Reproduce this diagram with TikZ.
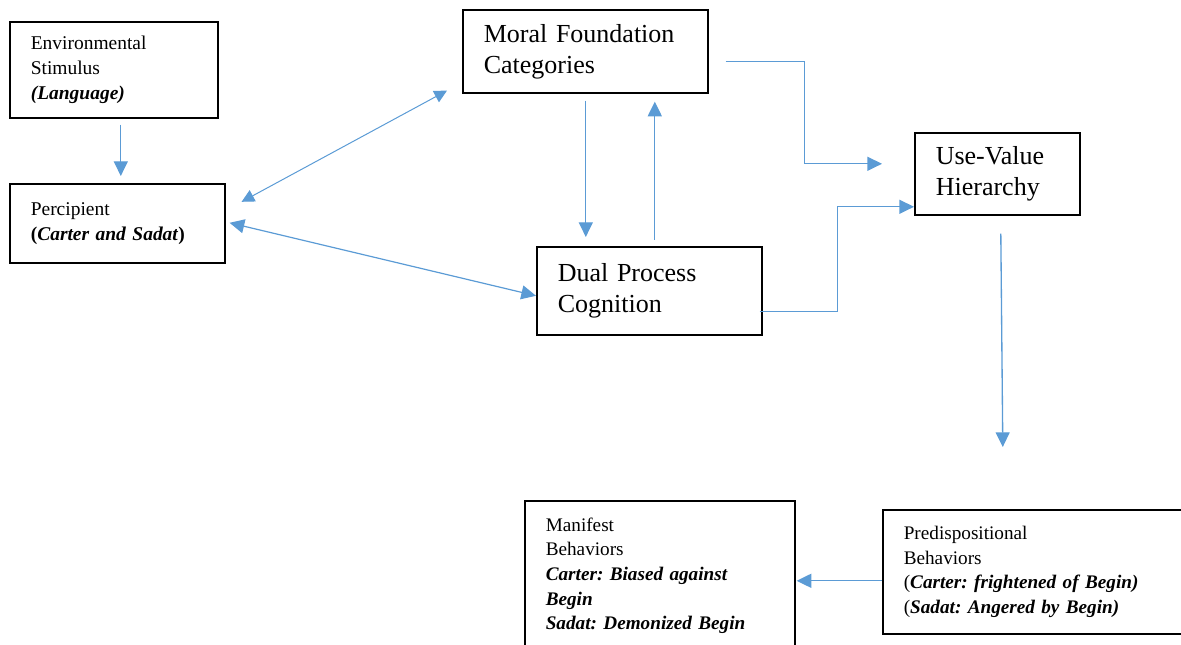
\documentclass[tikz,border=0pt]{standalone}
\usepackage{fontspec}
\setmainfont{Liberation Serif}
\frenchspacing
\usetikzlibrary{arrows.meta,calc}
\definecolor{linkblue}{HTML}{5B9BD5}
\tikzset{
  box/.style={draw=black, line width=1.2pt, rectangle, anchor=north west,
    inner xsep=15.75pt, inner ysep=0pt, align=left},
  small/.style={font=\fontsize{14.6pt}{18.75pt}\selectfont},
  smallb/.style={font=\fontsize{14.4pt}{18.4pt}\selectfont},
  large/.style={font=\fontsize{19.5pt}{23.25pt}\selectfont},
  link/.style={draw=linkblue, line width=1pt,
    -{Triangle[length=11pt,width=10.5pt]}},
  thinlink/.style={draw=linkblue, line width=0.75pt,
    {Triangle[length=9.5pt,width=9.5pt]}-{Triangle[length=9.5pt,width=9.5pt]}},
  duallink/.style={draw=linkblue, line width=0.9pt,
    {Triangle[length=11pt,width=10.5pt]}-{Triangle[length=11pt,width=10.5pt]}},
}
\begin{document}
\begin{tikzpicture}[x=0.75pt, y=-0.75pt]
\useasboundingbox (0,0) rectangle (1181,645);

% boxes
\node[box, small, minimum width=156pt, minimum height=72pt, text width=124.5pt]
  (env) at (9,21) {Environmental\\Stimulus\\\textbf{\textit{(Language)}}};
\node[box, small, minimum width=161.25pt, minimum height=59.25pt, text width=129.75pt]
  (percip) at (9,183) {Percipient\\\textbf{(\textit{Carter and Sadat})}};
\node[box, large, minimum width=183.75pt, minimum height=62.25pt, text width=152.25pt]
  (moral) at (462,9) {\rule{0pt}{0pt}Moral Foundation\\Categories};
\node[box, large, minimum width=168.75pt, minimum height=66pt, text width=137.25pt]
  (dual) at (536,246) {Dual Process\\Cognition};
\node[box, large, minimum width=123.75pt, minimum height=61.5pt, text width=92.25pt]
  (usev) at (914,132) {Use-Value\\Hierarchy};
\node[box, smallb, minimum width=202.5pt, minimum height=112.5pt, text width=171pt]
  (manif) at (524,500) {Manifest\\Behaviors\\\textbf{\textit{Carter: Biased against}}\\\textbf{\textit{Begin}}\\\textbf{\textit{Sadat: Demonized Begin}}};
\node[box, smallb, minimum width=228.75pt, minimum height=93pt, text width=197.25pt]
  (predisp) at (882,509) {Predispositional\\Behaviors\\(\textbf{\textit{Carter: frightened of Begin)}}\\(\textbf{\textit{Sadat: Angered by Begin)}}};

% connectors
\draw[link] ($(env.south)+(7,6)$) -- ($(percip.north)+(3.5,-7)$);
\draw[thinlink] ($(percip.east)+(16,-21.5)$) -- ($(moral.south west)+(-15,-3)$);
\draw[duallink] ($(percip.east)+(4,-0.5)$) -- ($(dual.west)+(0,5)$);
\draw[link] ($(moral.south)+(0.5,7)$) -- ($(dual.north)+(-63.5,-9)$);
\draw[link] ($(dual.north)+(5.5,-6)$) -- ($(moral.south)+(69.5,8)$);
\draw[link] ($(moral.east)+(17,10.5)$) -- ++(79,0) |- ($(usev.west)+(-32,-10)$);
\draw[link] ($(dual.east)+(-3,21)$) -- ++(78,0) |- ($(usev.west)+(0,33)$);
\draw[link] ($(usev.south)+(3.5,18)$) -- ($(predisp.north)+(-32.5,-62)$);
\draw[link] ($(predisp.west)+(0,9)$) -- ($(manif.east)+(1,5)$);
\end{tikzpicture}
\end{document}
